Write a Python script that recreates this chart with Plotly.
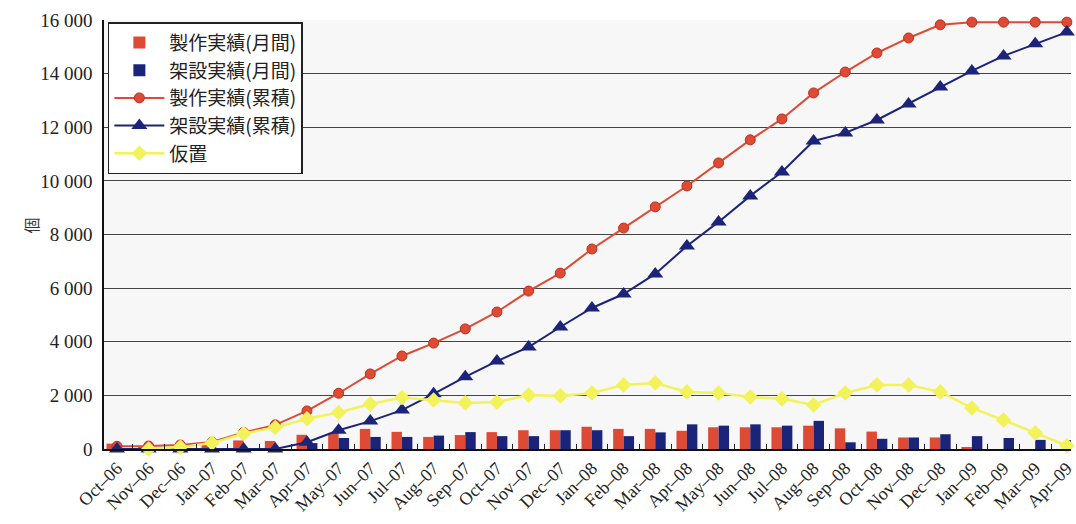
import plotly.graph_objects as go

months = ["Oct–06", "Nov–06", "Dec–06", "Jan–07", "Feb–07", "Mar–07", "Apr–07", "May–07",
          "Jun–07", "Jul–07", "Aug–07", "Sep–07", "Oct–07", "Nov–07", "Dec–07", "Jan–08",
          "Feb–08", "Mar–08", "Apr–08", "May–08", "Jun–08", "Jul–08", "Aug–08", "Sep–08",
          "Oct–08", "Nov–08", "Dec–08", "Jan–09", "Feb–09", "Mar–09", "Apr–09"]

prod_monthly = [200, 50, 80, 150, 320, 300, 530, 600, 750, 640, 450, 520, 630, 700, 700, 830,
                750, 750, 680, 810, 810, 810, 870, 770, 650, 430, 430, 50, 0, 0, 0]
erect_monthly = [0, 0, 0, 0, 0, 0, 220, 410, 450, 450, 500, 630, 480, 480, 700, 700,
                 480, 620, 920, 870, 920, 870, 1050, 250, 380, 430, 550, 480, 410, 340, 330]
prod_cum = [100, 110, 150, 260, 620, 900, 1420, 2080, 2800, 3470, 3950, 4480, 5110, 5890,
            6560, 7460, 8240, 9030, 9810, 10670, 11530, 12310, 13280, 14060, 14770, 15330,
            15820, 15920, 15920, 15920, 15920]
erect_cum = [0, 0, 0, 0, 0, 0, 250, 700, 1040, 1450, 2060, 2690, 3280, 3800, 4550, 5260,
             5780, 6530, 7570, 8470, 9440, 10330, 11490, 11790, 12270, 12870, 13500, 14100,
             14660, 15110, 15550]
temp_storage = [None, 0, 70, 220, 580, 800, 1130, 1360, 1680, 1920, 1830, 1720, 1750, 2010,
                1980, 2090, 2390, 2460, 2130, 2090, 1940, 1870, 1640, 2090, 2390, 2390, 2130,
                1530, 1080, 600, 120]

names = ["製作実績(月間)", "架設実績(月間)", "製作実績(累積)", "架設実績(累積)", "仮置"]

RED = "#de4a33"
BLUE = "#1b2478"
YEL = "#f2f25a"

fig = go.Figure()
fig.add_trace(go.Bar(x=months, y=prod_monthly, name=names[0], marker_color=RED,
                     marker_line_width=0))
fig.add_trace(go.Bar(x=months, y=erect_monthly, name=names[1], marker_color=BLUE,
                     marker_line_width=0))
fig.add_trace(go.Scatter(x=months, y=prod_cum, name=names[2], mode="lines+markers",
                         line=dict(color=RED, width=2),
                         marker=dict(symbol="circle", size=10, color=RED,
                                     line=dict(color="#b8321f", width=1)),
                         cliponaxis=False))
fig.add_trace(go.Scatter(x=months, y=erect_cum, name=names[3], mode="lines+markers",
                         line=dict(color=BLUE, width=2),
                         marker=dict(symbol="triangle-up", size=14, color=BLUE),
                         cliponaxis=False))
fig.add_trace(go.Scatter(x=months, y=temp_storage, name=names[4], mode="lines+markers",
                         line=dict(color=YEL, width=2.5),
                         marker=dict(symbol="diamond", size=12, color=YEL),
                         cliponaxis=False))

fig.update_layout(
    width=1076, height=524,
    margin=dict(l=104, r=0, t=20, b=75),
    paper_bgcolor="white",
    plot_bgcolor="#f7f7f7",
    barmode="group",
    bargap=0.34,
    bargroupgap=0,
    separators=". ",
    showlegend=True,
    legend=dict(x=0.004, y=0.995, xanchor="left", yanchor="top",
                bgcolor="white", bordercolor="#222", borderwidth=1.5,
                font=dict(family="Noto Sans CJK JP", size=19, color="#222"),
                itemwidth=50, tracegroupgap=0),
    xaxis=dict(
        type="category", range=[-0.41, 30.13],
        tickangle=-45, tickfont=dict(family="Liberation Serif", size=18, color="#222"),
        ticks="inside", tickson="boundaries", ticklen=5, tickcolor="#222",
        showline=True, linecolor="#111", linewidth=1.5,
        showgrid=False,
    ),
    yaxis=dict(
        range=[0, 16000], dtick=2000, tickformat=",d",
        tickfont=dict(family="Liberation Serif", size=19, color="#222"),
        showline=True, linecolor="#111", linewidth=1.5,
        showgrid=True, gridcolor="#444", gridwidth=1,
        ticks="", ticklabelstandoff=6, zeroline=False,
    ),
    annotations=[dict(text="個", xref="paper", yref="paper", x=-0.0895, y=0.522,
                      showarrow=False, textangle=-90,
                      font=dict(family="Noto Sans CJK JP", size=16, color="#333"))],
)

for i in range(5):
    fig.data[i].legendgroup = str(i)

fig.write_html("out.html")
